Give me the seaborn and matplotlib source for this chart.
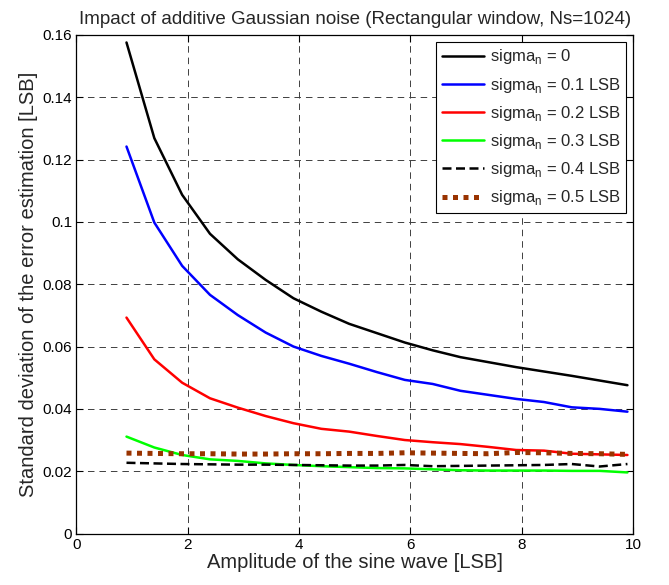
import numpy as np
import pandas as pd
import matplotlib
matplotlib.use("Agg")
import matplotlib.pyplot as plt
import seaborn as sns

amplitude = [0.9, 1.4, 1.9, 2.4, 2.9, 3.4, 3.9, 4.4, 4.9, 5.4, 5.9, 6.4, 6.9, 7.4, 7.9, 8.4, 8.9, 9.4, 9.9]

sigma_0 = [0.1576, 0.1269, 0.1087, 0.0962, 0.0880, 0.0814, 0.0755, 0.0712, 0.0673, 0.0643,
           0.0613, 0.0588, 0.0566, 0.0550, 0.0534, 0.0520, 0.0506, 0.0491, 0.0476]
sigma_01 = [0.1242, 0.0998, 0.0859, 0.0766, 0.0701, 0.0645, 0.0600, 0.0570, 0.0545, 0.0518,
            0.0493, 0.0480, 0.0458, 0.0445, 0.0432, 0.0422, 0.0405, 0.0400, 0.0391]
sigma_02 = [0.0693, 0.0559, 0.0484, 0.0434, 0.0404, 0.0377, 0.0354, 0.0336, 0.0327, 0.0313,
            0.0300, 0.0293, 0.0287, 0.0278, 0.0268, 0.0266, 0.0256, 0.0254, 0.0252]
sigma_03 = [0.0311, 0.0276, 0.0252, 0.0238, 0.0233, 0.0225, 0.0220, 0.0216, 0.0213, 0.0210,
            0.0209, 0.0206, 0.0203, 0.0202, 0.0202, 0.0202, 0.0201, 0.0201, 0.0196]
sigma_04 = [0.0227, 0.0225, 0.0223, 0.0222, 0.0221, 0.0221, 0.0220, 0.0219, 0.0218, 0.0218,
            0.0220, 0.0216, 0.0217, 0.0218, 0.0219, 0.0220, 0.0223, 0.0215, 0.0223]
sigma_05 = [0.0258, 0.0257, 0.0256, 0.0256, 0.0255, 0.0255, 0.0256, 0.0256, 0.0257, 0.0257,
            0.0259, 0.0258, 0.0257, 0.0256, 0.0260, 0.0259, 0.0257, 0.0256, 0.0254]

labels = ["sigma$_\\mathregular{n}$ = 0",
          "sigma$_\\mathregular{n}$ = 0.1 LSB",
          "sigma$_\\mathregular{n}$ = 0.2 LSB",
          "sigma$_\\mathregular{n}$ = 0.3 LSB",
          "sigma$_\\mathregular{n}$ = 0.4 LSB",
          "sigma$_\\mathregular{n}$ = 0.5 LSB"]

x_ticks = [0, 2, 4, 6, 8, 10]
y_ticks = [0, 0.02, 0.04, 0.06, 0.08, 0.1, 0.12, 0.14, 0.16]
y_ticklabels = ["0", "0.02", "0.04", "0.06", "0.08", "0.1", "0.12", "0.14", "0.16"]

sns.set_theme(style="white")
plt.rcParams['font.family'] = ['Liberation Sans', 'DejaVu Sans']
plt.rcParams['mathtext.fontset'] = 'custom'
plt.rcParams['mathtext.rm'] = 'Liberation Sans'

fig = plt.figure(figsize=(6.69, 5.85), dpi=100)
ax = fig.add_axes([76.4 / 669, (585 - 533.5) / 585, (633 - 76.4) / 669, (533.5 - 35) / 585])

styles = [
    (sigma_0, "#000000", "-", 1.8),
    (sigma_01, "#0000ff", "-", 1.8),
    (sigma_02, "#ff0000", "-", 1.8),
    (sigma_03, "#00ff00", "-", 1.8),
    (sigma_04, "#000000", (0, (3.6, 1.8)), 1.8),
    (sigma_05, "#993300", (0, (1, 1.1)), 3.6),
]

for (vals, col, ls, lw), lab in zip(styles, labels):
    df = pd.DataFrame({"x": amplitude, "y": vals})
    sns.lineplot(data=df, x="x", y="y", ax=ax, color=col, linestyle=ls, linewidth=lw,
                 label=lab, estimator=None, sort=False)

ax.set_xlim(0, 10)
ax.set_ylim(0, 0.16)
ax.set_xticks(x_ticks)
ax.set_xticklabels([str(t) for t in x_ticks])
ax.set_yticks(y_ticks)
ax.set_yticklabels(y_ticklabels)
ax.tick_params(direction="in", length=5, width=0.8, top=True, right=True,
               bottom=True, left=True, labelsize=11, colors="black", pad=3)
ax.grid(True, color="0.25", linestyle=(0, (6.7, 5.1)), linewidth=0.7)
for s in ax.spines.values():
    s.set_color("black")
    s.set_linewidth(0.9)

ax.set_xlabel("Amplitude of the sine wave [LSB]", fontsize=14.5, labelpad=1)
ax.set_ylabel("Standard deviation of the error estimation [LSB]", fontsize=14.5, labelpad=3)
ax.set_title("Impact of additive Gaussian noise (Rectangular window, Ns=1024)", fontsize=13.5, pad=8)

leg = ax.legend(loc="upper right", fontsize=12, frameon=True, fancybox=False,
                edgecolor="black", framealpha=1, handlelength=2.5, handletextpad=0.35,
                labelspacing=0.55, borderpad=0.35, borderaxespad=0.4)
leg.get_frame().set_linewidth(0.8)

fig.savefig("out.png", dpi=100)
